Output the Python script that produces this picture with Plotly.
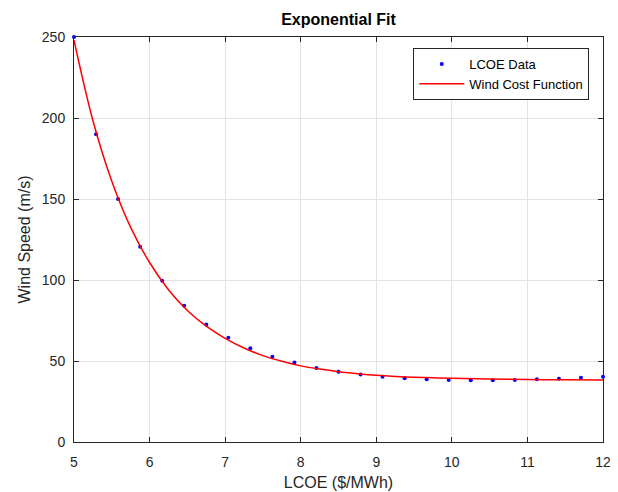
import plotly.graph_objects as go

# LCOE data points
data_x = [5.0, 5.292, 5.583, 5.875, 6.167, 6.458, 6.75, 7.042, 7.333, 7.625,
          7.917, 8.208, 8.5, 8.792, 9.083, 9.375, 9.667, 9.958, 10.25, 10.542,
          10.833, 11.125, 11.417, 11.708, 12.0]
data_y = [250, 190, 150, 120.5, 99.6, 84.1, 72.6, 64.4, 57.8, 52.7,
          49.0, 45.7, 43.4, 41.6, 40.3, 39.3, 38.7, 38.3, 38.1, 38.1,
          38.3, 38.7, 39.1, 39.7, 40.3]

# Fitted curve
fit_x = [5.0, 5.25, 5.5, 5.75, 6.0, 6.25, 6.5, 6.75, 7.0, 7.25, 7.5, 7.75,
         8.0, 8.25, 8.5, 8.75, 9.0, 9.25, 9.5, 9.75, 10.0, 10.5, 11.0, 11.5, 12.0]
fit_y = [248, 198.5, 161.0, 132.5, 110.8, 94.0, 81.2, 71.5, 64.0, 58.0, 53.3, 49.8,
         47.0, 45.0, 43.4, 42.2, 41.2, 40.5, 40.0, 39.6, 39.3, 38.9, 38.6, 38.4, 38.3]

x_ticks = [5, 6, 7, 8, 9, 10, 11, 12]
y_ticks = [0, 50, 100, 150, 200, 250]

FONT = "Liberation Sans, Arial"

fig = go.Figure()
fig.add_trace(go.Scatter(x=data_x, y=data_y, mode="markers", name="LCOE Data",
                         marker=dict(color="#0000ff", size=4), cliponaxis=False))
fig.add_trace(go.Scatter(x=fit_x, y=fit_y, mode="lines", name="Wind Cost Function",
                         line=dict(color="#ff0000", width=1.5, shape="spline")))

axis_common = dict(showline=True, linecolor="#262626", linewidth=1, mirror="ticks",
                   ticks="inside", ticklen=5, tickcolor="#262626",
                   showgrid=True, gridcolor="#e3e3e3", gridwidth=1, zeroline=False,
                   automargin=False,
                   tickfont=dict(family=FONT, size=14, color="#262626"))

fig.update_layout(
    width=610, height=484,
    margin=dict(l=66, r=15, t=29, b=50),
    paper_bgcolor="white", plot_bgcolor="white",
    title=dict(text="<b>Exponential Fit</b>", x=(66 + 595) / 2 / 610, xanchor="center",
               y=1 - 11 / 484, yanchor="middle",
               font=dict(family=FONT, size=16, color="#000000")),
    xaxis=dict(range=[5, 12], tickvals=x_ticks, ticklabelstandoff=7,
               title=dict(text="LCOE ($/MWh)", standoff=8,
                          font=dict(family=FONT, size=16, color="#262626")),
               **axis_common),
    yaxis=dict(range=[0, 250], tickvals=y_ticks, ticklabelstandoff=5,
               title=dict(text="Wind Speed (m/s)", standoff=7,
                          font=dict(family=FONT, size=16, color="#262626")),
               **axis_common),
    legend=dict(x=0.974, y=0.973, xanchor="right", yanchor="top",
                bgcolor="white", bordercolor="#262626", borderwidth=1,
                font=dict(family=FONT, size=13, color="#000000"),
                tracegroupgap=0, itemwidth=45),
    showlegend=True,
)

fig.write_html("out.html")
